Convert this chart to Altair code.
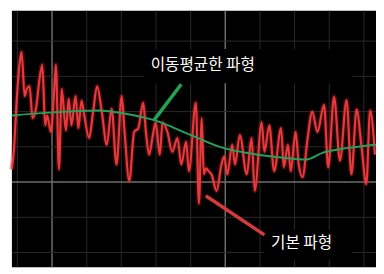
import altair as alt
import pandas as pd

# Raw waveform (time in grid divisions, amplitude in grid divisions)
red_t = [-1.16, -1.10, -1.02, -0.93, -0.88, -0.79, -0.73, -0.65, -0.56, -0.45,
         -0.37, -0.28, -0.20, -0.14, -0.03, 0.06, 0.11, 0.20, 0.28, 0.40,
         0.48, 0.56, 0.68, 0.76, 0.85, 0.93, 1.07, 1.19, 1.30, 1.44,
         1.58, 1.72, 1.86, 2.01, 2.09, 2.23, 2.37, 2.49, 2.63, 2.71,
         2.80, 2.91, 2.99, 3.11, 3.19, 3.33, 3.47, 3.62, 3.73, 3.87,
         3.95, 4.15, 4.24, 4.32, 4.38, 4.44, 4.52, 4.60, 4.75, 4.89,
         4.97, 5.06, 5.20, 5.28, 5.42, 5.62, 5.76, 5.85, 6.05, 6.13,
         6.27, 6.41, 6.61, 6.69, 6.81, 6.89, 7.03, 7.12, 7.23, 7.37,
         7.51, 7.66, 7.85, 7.97, 8.14, 8.31, 8.50, 8.64, 8.79, 8.93,
         9.07, 9.18, 9.32]
red_v = [0.36, 0.92, 2.31, 3.42, 3.69, 2.44, 2.64, 2.72, 1.81, 2.17,
         2.86, 3.33, 1.61, 1.89, 1.42, 2.58, 3.33, 0.36, 2.64, 1.47,
         2.36, 1.61, 2.44, 1.53, 2.31, 1.89, 1.25, 2.03, 2.72, 1.97,
         1.06, 2.08, 0.50, 2.44, 1.47, 0.03, 1.42, 1.53, 2.25, 1.42,
         0.78, 1.33, 1.69, 0.78, 1.69, 1.42, 0.86, 1.25, 0.50, 1.14,
         0.31, 2.25, -0.61, 1.81, 0.22, 0.39, 0.31, 0.22, -0.25, 0.50,
         0.72, 0.22, 1.06, 0.50, 1.33, 0.22, 1.25, -0.25, 1.69, 0.86,
         1.61, 0.31, 1.53, 0.42, 1.06, 0.31, 1.42, 0.50, 0.14, 1.19,
         2.00, 1.42, 2.19, 0.42, 2.42, 0.61, 2.33, 0.22, 2.06, 1.03,
         -0.06, 2.03, 0.78]

# Moving-average waveform
green_t = [-1.16, -0.08, 1.33, 2.12, 2.97, 4.01, 4.94, 5.73, 6.67, 7.34, 7.80, 8.56, 9.35]
green_v = [1.89, 1.97, 2.03, 1.94, 1.75, 1.33, 0.97, 0.81, 0.69, 0.64, 0.83, 0.97, 1.06]

grid_t_minor = [-1, 1, 2, 3, 4, 6, 7, 8, 9]
grid_t_major = [0, 5]
grid_v_minor = [-2, -1, 1, 2, 3, 4]
grid_v_major = [0]

label_avg = "이동평균한 파형"
label_raw = "기본 파형"

FONT = "Noto Sans CJK KR"
xs = alt.Scale(domain=[-1.158, 9.35], nice=False, zero=False)
ys = alt.Scale(domain=[-2.417, 4.861], nice=False, zero=False)

red_df = pd.DataFrame({"t": red_t, "v": red_v})
green_df = pd.DataFrame({"t": green_t, "v": green_v})
one = alt.Data(values=[{}])

vmin = alt.Chart(pd.DataFrame({"t": grid_t_minor})).mark_rule(color="#2a2a2a", strokeWidth=1).encode(
    x=alt.X("t:Q", scale=xs, axis=None))
vmaj = alt.Chart(pd.DataFrame({"t": grid_t_major})).mark_rule(color="#6e6e6e", strokeWidth=1.5).encode(
    x=alt.X("t:Q", scale=xs, axis=None))
hmin = alt.Chart(pd.DataFrame({"v": grid_v_minor})).mark_rule(color="#2a2a2a", strokeWidth=1).encode(
    y=alt.Y("v:Q", scale=ys, axis=None))
hmaj = alt.Chart(pd.DataFrame({"v": grid_v_major})).mark_rule(color="#6e6e6e", strokeWidth=1.5).encode(
    y=alt.Y("v:Q", scale=ys, axis=None))

box1 = alt.Chart(one).mark_rect(color="black").encode(
    x=alt.value(135), x2=alt.value(347), y=alt.value(39), y2=alt.value(74))
box2 = alt.Chart(one).mark_rect(color="black").encode(
    x=alt.value(258), x2=alt.value(348), y=alt.value(224), y2=alt.value(254))

glow = alt.Chart(red_df).mark_line(color="#b02020", strokeWidth=5, opacity=0.35,
                                   interpolate="monotone").encode(
    x=alt.X("t:Q", scale=xs, axis=None), y=alt.Y("v:Q", scale=ys, axis=None), order="t:Q")
red = alt.Chart(red_df).mark_line(color="#e8393c", strokeWidth=2.2, interpolate="monotone").encode(
    x=alt.X("t:Q", scale=xs, axis=None), y=alt.Y("v:Q", scale=ys, axis=None), order="t:Q")
green = alt.Chart(green_df).mark_line(color="#27a05a", strokeWidth=2, interpolate="monotone").encode(
    x=alt.X("t:Q", scale=xs, axis=None), y=alt.Y("v:Q", scale=ys, axis=None), order="t:Q")

lead_g = alt.Chart(one).mark_rule(color="#22a455", strokeWidth=3.5).encode(
    x=alt.value(145), y=alt.value(112), x2=alt.value(173), y2=alt.value(75))
lead_r = alt.Chart(one).mark_rule(color="#d83a3a", strokeWidth=3.5).encode(
    x=alt.value(198), y=alt.value(189), x2=alt.value(258), y2=alt.value(229))

txt1 = alt.Chart(one).mark_text(text=label_avg, color="white", font=FONT, fontSize=16,
                                align="center", baseline="middle").encode(
    x=alt.value(195), y=alt.value(55))
txt2 = alt.Chart(one).mark_text(text=label_raw, color="white", font=FONT, fontSize=16,
                                align="center", baseline="middle").encode(
    x=alt.value(296), y=alt.value(237))

chart = alt.layer(vmin, vmaj, hmin, hmaj, box1, box2, glow, red, green,
                  lead_g, lead_r, txt1, txt2).properties(
    width=372, height=262,
    autosize=alt.AutoSizeParams(type="none"),
    padding={"left": 4, "top": 0, "right": 0, "bottom": 0},
    background="white",
).configure_view(fill="black", strokeWidth=0)

chart.save("out.html", embed_options={"renderer": "svg", "actions": False})
